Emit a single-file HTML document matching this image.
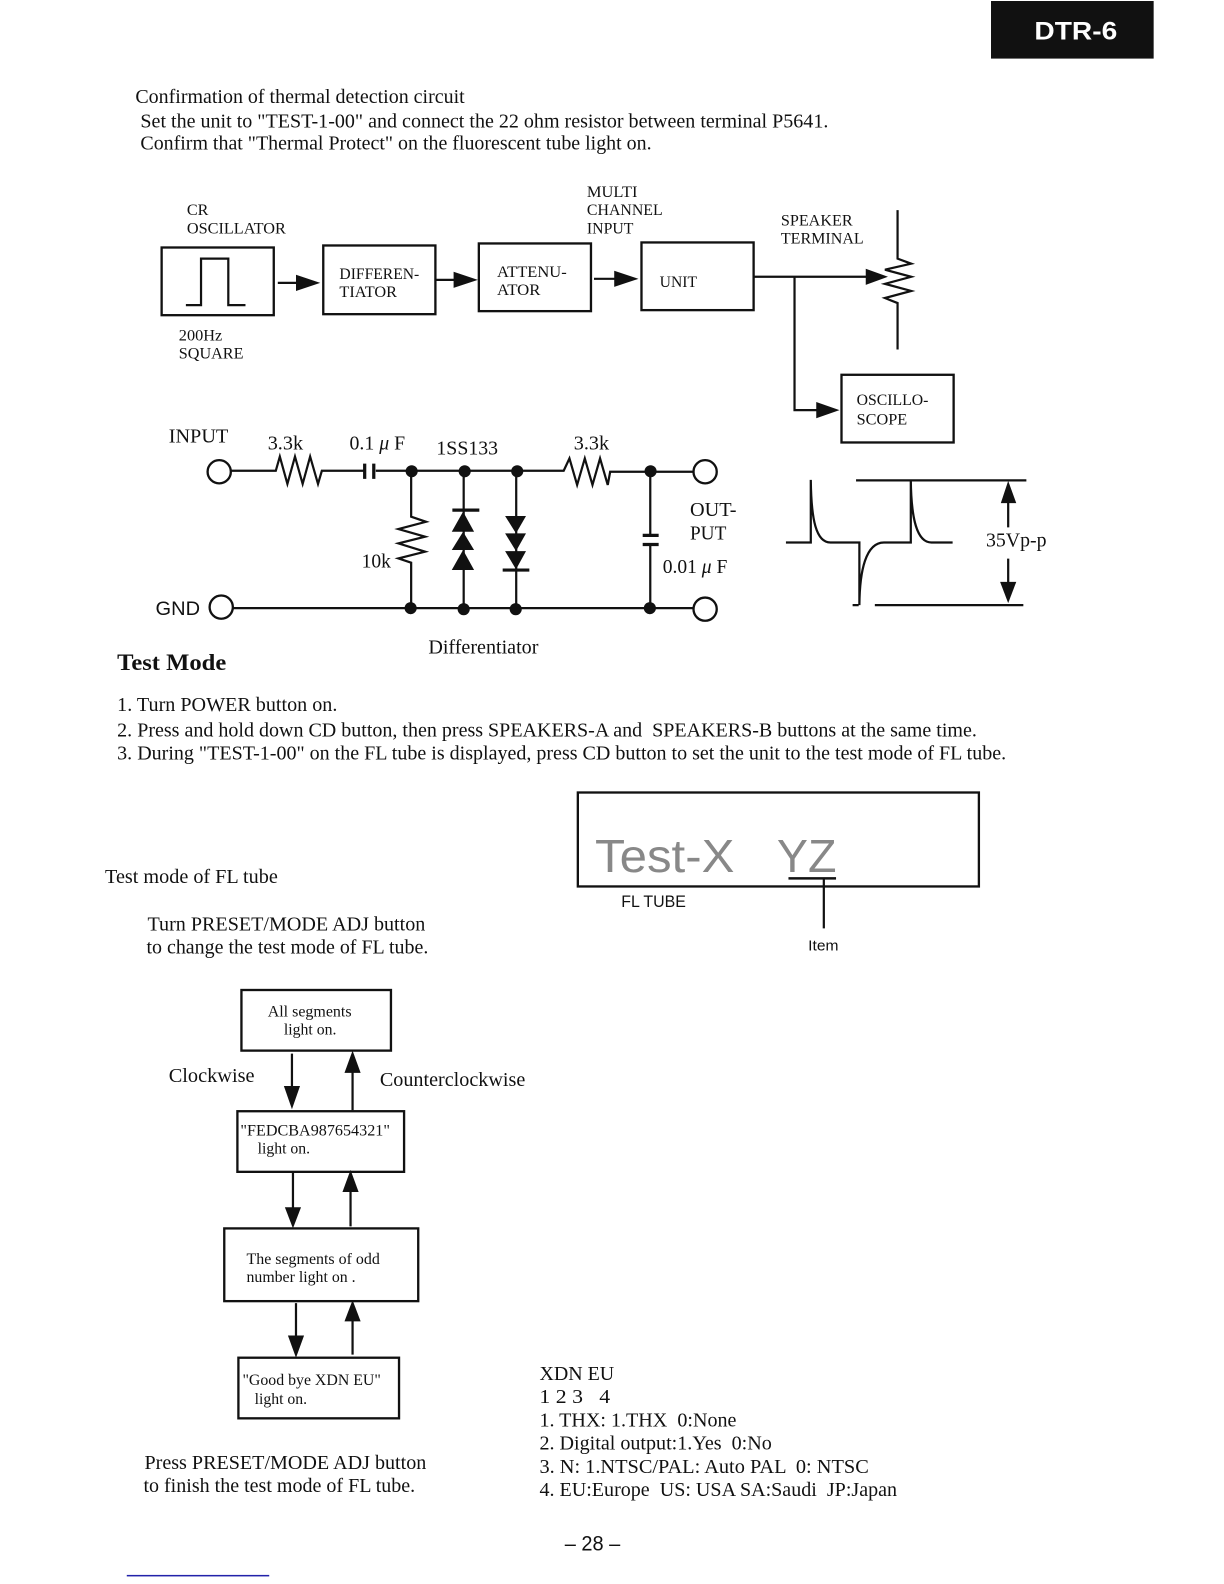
<!DOCTYPE html>
<html><head><meta charset="utf-8"><style>
html,body{margin:0;padding:0;background:#fff}
svg{display:block}
text{font-family:"Liberation Serif",serif;fill:#111;white-space:pre}
.h{font-family:"Liberation Sans",sans-serif}
.s{font-size:16px}.m{font-size:20px}
.l{fill:none;stroke:#111;stroke-width:2.2}
.b{fill:#fff;stroke:#111;stroke-width:2.3}
</style></head><body>
<svg width="1224" height="1584" viewBox="0 0 1211.636 1568" xmlns="http://www.w3.org/2000/svg">
<rect x="981" y="1" width="161" height="57" fill="#111"/>
<text class="h" x="1024" y="39" font-size="25" font-weight="bold" style="fill:#fff" textLength="82" lengthAdjust="spacingAndGlyphs">DTR-6</text>

<text class="m" x="134" y="102" textLength="326" lengthAdjust="spacingAndGlyphs">Confirmation of thermal detection circuit</text>
<text class="m" x="139" y="126" textLength="681" lengthAdjust="spacingAndGlyphs">Set the unit to "TEST-1-00" and connect the 22 ohm resistor between terminal P5641.</text>
<text class="m" x="139" y="148" textLength="506" lengthAdjust="spacingAndGlyphs">Confirm that "Thermal Protect" on the fluorescent tube light on.</text>

<!-- block diagram -->
<text class="s" x="185" y="213">CR</text>
<text class="s" x="185" y="231" textLength="98" lengthAdjust="spacingAndGlyphs">OSCILLATOR</text>
<text class="s" x="581" y="195" textLength="50" lengthAdjust="spacingAndGlyphs">MULTI</text>
<text class="s" x="581" y="213" textLength="75" lengthAdjust="spacingAndGlyphs">CHANNEL</text>
<text class="s" x="581" y="231" textLength="46" lengthAdjust="spacingAndGlyphs">INPUT</text>
<text class="s" x="773" y="223" textLength="71" lengthAdjust="spacingAndGlyphs">SPEAKER</text>
<text class="s" x="773" y="241" textLength="82" lengthAdjust="spacingAndGlyphs">TERMINAL</text>
<rect class="b" x="160" y="245" width="111" height="67"/>
<path class="l" d="M184 302H199V256H226V302H243"/>
<rect class="b" x="320" y="243" width="111" height="68"/>
<text class="s" x="336" y="276" textLength="79" lengthAdjust="spacingAndGlyphs">DIFFEREN-</text>
<text class="s" x="336" y="294" textLength="57" lengthAdjust="spacingAndGlyphs">TIATOR</text>
<rect class="b" x="474" y="241" width="111" height="67"/>
<text class="s" x="492" y="274" textLength="69" lengthAdjust="spacingAndGlyphs">ATTENU-</text>
<text class="s" x="492" y="292" textLength="43" lengthAdjust="spacingAndGlyphs">ATOR</text>
<rect class="b" x="635" y="240" width="111" height="67"/>
<text class="s" x="653" y="284" textLength="37" lengthAdjust="spacingAndGlyphs">UNIT</text>
<rect class="b" x="833" y="371" width="111" height="67"/>
<text class="s" x="848" y="401" textLength="71" lengthAdjust="spacingAndGlyphs">OSCILLO-</text>
<text class="s" x="848" y="420" textLength="50" lengthAdjust="spacingAndGlyphs">SCOPE</text>
<text class="s" x="177" y="337" textLength="43" lengthAdjust="spacingAndGlyphs">200Hz</text>
<text class="s" x="177" y="355" textLength="64" lengthAdjust="spacingAndGlyphs">SQUARE</text>
<path class="l" d="M275 280H295M431 277H452M588 276H610M746 274H860M786.5 274V406H810"/>
<polygon fill="#111" points="293,272 317,280 293,288"/>
<polygon fill="#111" points="449,269 473,277 449,285"/>
<polygon fill="#111" points="608,268 632,276 608,284"/>
<polygon fill="#111" points="857,266 879,274 857,282"/>
<polygon fill="#111" points="808,398 831,406 808,414"/>
<path class="l" d="M888.5 208V256L902 261L876 267L902 274L876 281L902 288L876 295L888.5 300V346"/>

<!-- circuit -->
<text class="m" x="167" y="438" textLength="59" lengthAdjust="spacingAndGlyphs">INPUT</text>
<text class="m" x="265" y="445" textLength="35" lengthAdjust="spacingAndGlyphs">3.3k</text>
<text class="m" x="346" y="445" textLength="55" lengthAdjust="spacingAndGlyphs">0.1 <tspan font-style="italic">μ</tspan> F</text>
<text class="m" x="432" y="450" textLength="61" lengthAdjust="spacingAndGlyphs">1SS133</text>
<text class="m" x="568" y="445" textLength="35" lengthAdjust="spacingAndGlyphs">3.3k</text>
<text class="h" x="154" y="609" font-size="19" textLength="44" lengthAdjust="spacingAndGlyphs">GND</text>
<text class="m" x="683" y="511" textLength="46" lengthAdjust="spacingAndGlyphs">OUT-</text>
<text class="m" x="683" y="534" textLength="36" lengthAdjust="spacingAndGlyphs">PUT</text>
<text class="m" x="656" y="567" textLength="64" lengthAdjust="spacingAndGlyphs">0.01 <tspan font-style="italic">μ</tspan> F</text>
<text class="m" x="358" y="562" textLength="29" lengthAdjust="spacingAndGlyphs">10k</text>
<text class="m" x="424" y="647" textLength="109" lengthAdjust="spacingAndGlyphs">Differentiator</text>
<circle class="b" cx="217" cy="467" r="11.5"/>
<circle class="b" cx="698" cy="467" r="11.5"/>
<circle class="b" cx="219" cy="601" r="11.5"/>
<circle class="b" cx="698" cy="603" r="11.5"/>
<path class="l" d="M229 466H273L277 452L284.5 479L292 452L299.6 479L307 452L314.8 479L318.6 466H360M372 466H558L563.7 453.8L571.3 480L578.9 453.8L586.5 480L594 453.8L601.6 480L604 467H686"/>
<path d="M361 459V474M370 459V474" stroke="#111" stroke-width="3.2" fill="none"/>
<path class="l" d="M231 602H686"/>
<path class="l" d="M407 467V511.5L421.7 516.5L394.4 523.7L420.8 531.3L394.4 537.9L420.8 546.1L394.4 552.8L407 557V602"/>
<path class="l" d="M459 467V602M511 467V602M643.7 467V530M643.7 539V602"/>
<path d="M447.8 505H474.5M497.6 564.3H524M636.2 530H652M636.2 539H652" stroke="#111" stroke-width="3.2" fill="none"/>
<g fill="#111">
<polygon points="458.4,506.5 447.2,526.4 469.3,526.4"/><polygon points="458.4,526.4 447.2,544.5 469.3,544.5"/><polygon points="458.4,544.5 447.2,564.3 469.3,564.3"/>
<polygon points="510.8,528 500,510.8 520.7,510.8"/><polygon points="510.8,545.5 500,528 520.7,528"/><polygon points="510.8,563.6 500,545.5 520.7,545.5"/>
<circle cx="407.5" cy="466.5" r="6"/><circle cx="460" cy="466.5" r="6"/><circle cx="512" cy="466.5" r="6"/><circle cx="644" cy="466.5" r="6"/>
<circle cx="406.5" cy="602" r="6"/><circle cx="459" cy="603" r="6"/><circle cx="510.5" cy="603" r="6"/><circle cx="643.3" cy="602" r="6"/>
</g>

<!-- waveform -->
<path class="l" stroke-width="2.5" d="M778 537H802.6V475C803 515 808 537 822 537H850.7V599C851 565 857 537 875 537H901.6V475C902 515 908 537 922 537H943"/>
<path class="l" d="M847.4 475.5H1016M844 599H850M866 599H1013M998 495V522M998 553V578"/>
<polygon fill="#111" points="998,476 990.7,498 1006,498"/>
<polygon fill="#111" points="998,597 990,576 1006,576"/>
<text class="m" x="976" y="541" textLength="60" lengthAdjust="spacingAndGlyphs">35Vp-p</text>

<!-- test mode -->
<text x="116" y="663" font-size="23" font-weight="bold" textLength="108" lengthAdjust="spacingAndGlyphs">Test Mode</text>
<text class="m" x="116" y="704" textLength="218" lengthAdjust="spacingAndGlyphs">1. Turn POWER button on.</text>
<text class="m" x="116" y="729" textLength="851" lengthAdjust="spacingAndGlyphs">2. Press and hold down CD button, then press SPEAKERS-A and  SPEAKERS-B buttons at the same time.</text>
<text class="m" x="116" y="752" textLength="880" lengthAdjust="spacingAndGlyphs">3. During "TEST-1-00" on the FL tube is displayed, press CD button to set the unit to the test mode of FL tube.</text>

<!-- FL tube -->
<rect class="b" x="572" y="784.5" width="397" height="93"/>
<text class="h" x="589" y="863" font-size="46" style="fill:#888" textLength="138" lengthAdjust="spacingAndGlyphs">Test-X</text>
<text class="h" x="769" y="863" font-size="46" style="fill:#888" textLength="59" lengthAdjust="spacingAndGlyphs">YZ</text>
<path d="M780.5 869.5H827.6" stroke="#111" stroke-width="2.5"/>
<path class="l" d="M815.5 870V919"/>
<text class="h" x="615" y="898" font-size="16" textLength="64" lengthAdjust="spacingAndGlyphs">FL TUBE</text>
<text class="h" x="800" y="941" font-size="15" textLength="30" lengthAdjust="spacingAndGlyphs">Item</text>

<text class="m" x="104" y="874" textLength="171" lengthAdjust="spacingAndGlyphs">Test mode of FL tube</text>
<text class="m" x="146" y="921" textLength="275" lengthAdjust="spacingAndGlyphs">Turn PRESET/MODE ADJ button</text>
<text class="m" x="145" y="944" textLength="279" lengthAdjust="spacingAndGlyphs">to change the test mode of FL tube.</text>

<!-- flow -->
<rect class="b" x="239" y="980" width="148" height="60"/>
<text class="s" x="265" y="1006" textLength="83" lengthAdjust="spacingAndGlyphs">All segments</text>
<text class="s" x="281" y="1024" textLength="52" lengthAdjust="spacingAndGlyphs">light on.</text>
<rect class="b" x="235" y="1100" width="165" height="60"/>
<text class="s" x="238" y="1124" textLength="148" lengthAdjust="spacingAndGlyphs">"FEDCBA987654321"</text>
<text class="s" x="255" y="1142" textLength="52" lengthAdjust="spacingAndGlyphs">light on.</text>
<rect class="b" x="222" y="1216" width="192" height="72"/>
<text class="s" x="244" y="1251" textLength="132" lengthAdjust="spacingAndGlyphs">The segments of odd</text>
<text class="s" x="244" y="1269" textLength="108" lengthAdjust="spacingAndGlyphs">number light on .</text>
<rect class="b" x="236" y="1344" width="159" height="60"/>
<text class="s" x="240" y="1371" textLength="137" lengthAdjust="spacingAndGlyphs">"Good bye XDN EU"</text>
<text class="s" x="252" y="1390" textLength="52" lengthAdjust="spacingAndGlyphs">light on.</text>
<path class="l" d="M289 1043V1080M349 1060V1099M290 1161V1198M347 1180V1214M293 1290V1325M349 1305V1341"/>
<g fill="#111">
<polygon points="289,1098 281,1075 297,1075"/><polygon points="349,1040 341,1062 357,1062"/>
<polygon points="290,1216 282,1195 298,1195"/><polygon points="347,1158 339,1180 355,1180"/>
<polygon points="293,1344 285,1322 301,1322"/><polygon points="349,1287 341,1308 357,1308"/>
</g>
<text class="m" x="167" y="1071" textLength="85" lengthAdjust="spacingAndGlyphs">Clockwise</text>
<text class="m" x="376" y="1075" textLength="144" lengthAdjust="spacingAndGlyphs">Counterclockwise</text>
<text class="m" x="143" y="1454" textLength="279" lengthAdjust="spacingAndGlyphs">Press PRESET/MODE ADJ button</text>
<text class="m" x="142" y="1477" textLength="269" lengthAdjust="spacingAndGlyphs">to finish the test mode of FL tube.</text>

<text class="m" x="534" y="1366" textLength="74" lengthAdjust="spacingAndGlyphs">XDN EU</text>
<text class="m" x="534" y="1389" textLength="70" lengthAdjust="spacingAndGlyphs">1 2 3   4</text>
<text class="m" x="534" y="1412" textLength="195" lengthAdjust="spacingAndGlyphs">1. THX: 1.THX  0:None</text>
<text class="m" x="534" y="1435" textLength="230" lengthAdjust="spacingAndGlyphs">2. Digital output:1.Yes  0:No</text>
<text class="m" x="534" y="1458" textLength="326" lengthAdjust="spacingAndGlyphs">3. N: 1.NTSC/PAL: Auto PAL  0: NTSC</text>
<text class="m" x="534" y="1481" textLength="354" lengthAdjust="spacingAndGlyphs">4. EU:Europe  US: USA SA:Saudi  JP:Japan</text>

<text class="h" x="559" y="1535" font-size="21" textLength="55" lengthAdjust="spacingAndGlyphs">– 28 –</text>
<rect x="125.5" y="1559" width="141" height="1.5" fill="#22a"/>
</svg>
</body></html>
